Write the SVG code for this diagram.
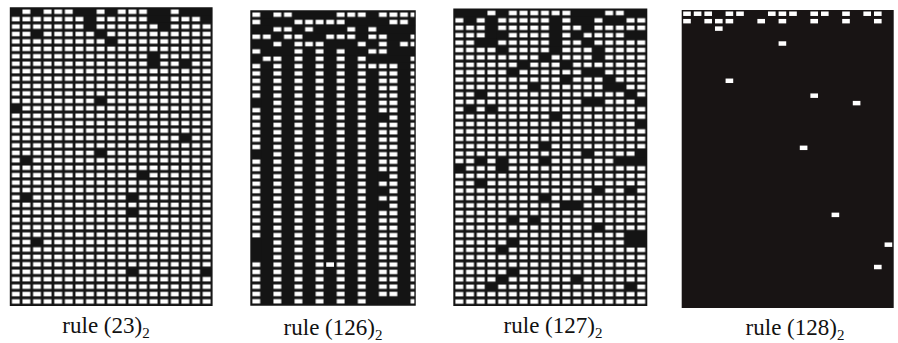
<svg xmlns="http://www.w3.org/2000/svg" width="898" height="343" viewBox="0 0 898 343">
<style>
.k{fill:#141414}
.w{fill:#ffffff}
.edge{fill:none;stroke:#141414;stroke-width:1.4px;vector-effect:non-scaling-stroke}
.lbl{font-family:"Liberation Serif","Times New Roman",serif;font-size:23px;fill:#111;text-anchor:middle}
.sub{font-size:15px}
</style>
<defs>
<pattern id="grid" patternUnits="userSpaceOnUse" x="0" y="0" width="1" height="1">
<rect width="1" height="1" fill="#141414"/>
<rect x="0.13" y="0.2" width="0.74" height="0.6" fill="#ffffff"/>
</pattern>
</defs>
<rect width="898" height="343" fill="#ffffff"/>

<g id="panel-23" transform="translate(10.5,8) scale(10.6,7.43)">
<rect width="19" height="40" fill="url(#grid)"/>
<rect class="edge" width="19" height="40"/>
<rect class="k" x="0" y="0" width="1" height="1"/>
<rect class="k" x="2" y="0" width="1" height="1"/>
<rect class="k" x="6" y="0" width="2" height="1"/>
<rect class="k" x="9" y="0" width="1" height="1"/>
<rect class="k" x="13" y="0" width="2" height="1"/>
<rect class="k" x="16" y="0" width="3" height="1"/>
<rect class="k" x="7" y="1" width="1" height="2"/>
<rect class="k" x="13" y="1" width="2" height="1"/>
<rect class="k" x="18" y="1" width="1" height="1"/>
<rect class="k" x="14" y="2" width="1" height="1"/>
<rect class="k" x="2" y="3" width="1" height="1"/>
<rect class="k" x="8" y="3" width="1" height="1"/>
<rect class="k" x="9" y="4" width="1" height="1"/>
<rect class="k" x="13" y="6" width="1" height="2"/>
<rect class="k" x="16" y="7" width="1" height="1"/>
<rect class="k" x="8" y="12" width="1" height="1"/>
<rect class="k" x="0" y="13" width="1" height="1"/>
<rect class="k" x="16" y="17" width="1" height="1"/>
<rect class="k" x="8" y="19" width="1" height="1"/>
<rect class="k" x="1" y="20" width="1" height="1"/>
<rect class="k" x="12" y="22" width="1" height="1"/>
<rect class="k" x="1" y="25" width="1" height="1"/>
<rect class="k" x="11" y="25" width="1" height="1"/>
<rect class="k" x="11" y="27" width="1" height="1"/>
<rect class="k" x="2" y="31" width="1" height="1"/>
<rect class="k" x="11" y="35" width="1" height="1"/>
<rect class="k" x="18" y="35" width="1" height="1"/>
</g>

<g id="panel-126" transform="translate(251,11) scale(10.55,7.35)">
<rect width="15.55" height="40" fill="url(#grid)"/>
<rect class="edge" width="15.55" height="40"/>
<rect class="k" x="1" y="8" width="1" height="32"/>
<rect class="k" x="3" y="8" width="1" height="32"/>
<rect class="k" x="5" y="8" width="1" height="32"/>
<rect class="k" x="7" y="8" width="1" height="32"/>
<rect class="k" x="9" y="8" width="1" height="32"/>
<rect class="k" x="11" y="8" width="1" height="32"/>
<rect class="k" x="14" y="8" width="1" height="32"/>
<rect class="k" x="1" y="0" width="1" height="1"/>
<rect class="k" x="4" y="0" width="4" height="1"/>
<rect class="k" x="11" y="0" width="1" height="1"/>
<rect class="k" x="1" y="1" width="3" height="1"/>
<rect class="k" x="9" y="1" width="4" height="1"/>
<rect class="k" x="15" y="1" width="0.55" height="1"/>
<rect class="k" x="0" y="2" width="2" height="1"/>
<rect class="k" x="4" y="2" width="1" height="1"/>
<rect class="k" x="6" y="2" width="3" height="1"/>
<rect class="k" x="10" y="2" width="1" height="1"/>
<rect class="k" x="12" y="2" width="3.55" height="1"/>
<rect class="k" x="2" y="3" width="1" height="1"/>
<rect class="k" x="5" y="3" width="2" height="1"/>
<rect class="k" x="10" y="3" width="1" height="1"/>
<rect class="k" x="13" y="3" width="2" height="1"/>
<rect class="k" x="0" y="4" width="2" height="1"/>
<rect class="k" x="3" y="4" width="1" height="1"/>
<rect class="k" x="7" y="4" width="3" height="1"/>
<rect class="k" x="11" y="4" width="1" height="1"/>
<rect class="k" x="13" y="4" width="1" height="1"/>
<rect class="k" x="1" y="5" width="3" height="1"/>
<rect class="k" x="5" y="5" width="1" height="1"/>
<rect class="k" x="7" y="5" width="1" height="1"/>
<rect class="k" x="9" y="5" width="2" height="1"/>
<rect class="k" x="13" y="5" width="2.55" height="1"/>
<rect class="k" x="0" y="6" width="1" height="1"/>
<rect class="k" x="3" y="6" width="1" height="2"/>
<rect class="k" x="5" y="6" width="1" height="2"/>
<rect class="k" x="7" y="6" width="1" height="2"/>
<rect class="k" x="9" y="6" width="1" height="2"/>
<rect class="k" x="11" y="6" width="4" height="1"/>
<rect class="k" x="1" y="7" width="1" height="1"/>
<rect class="k" x="14" y="7" width="1" height="1"/>
<rect class="k" x="0" y="12" width="1" height="1"/>
<rect class="k" x="0" y="19" width="1" height="1"/>
<rect class="k" x="0" y="31" width="1" height="3"/>
<rect class="k" x="12" y="14" width="1" height="1"/>
<rect class="k" x="12" y="22" width="1" height="1"/>
<rect class="k" x="12" y="24" width="1" height="1"/>
<rect class="k" x="12" y="26" width="1" height="1"/>
<rect class="k" x="12" y="39" width="2" height="1"/>
<rect class="w" x="7.13" y="34.2" width="0.74" height="0.6"/>
</g>

<g id="panel-127" transform="translate(454,9.3) scale(10.7,7.4)">
<rect width="18" height="40" fill="url(#grid)"/>
<rect class="edge" width="18" height="40"/>
<rect class="k" x="0" y="0" width="3" height="1"/>
<rect class="k" x="4" y="0" width="1" height="1"/>
<rect class="k" x="11" y="0" width="3" height="1"/>
<rect class="k" x="16" y="0" width="2" height="1"/>
<rect class="k" x="1" y="1" width="1" height="1"/>
<rect class="k" x="3" y="1" width="1" height="3"/>
<rect class="k" x="9" y="1" width="1" height="4"/>
<rect class="k" x="11" y="1" width="2" height="1"/>
<rect class="k" x="14" y="1" width="2" height="1"/>
<rect class="k" x="12" y="2" width="1" height="1"/>
<rect class="k" x="4" y="3" width="1" height="1"/>
<rect class="k" x="11" y="3" width="1" height="1"/>
<rect class="k" x="16" y="3" width="2" height="1"/>
<rect class="k" x="2" y="4" width="2" height="1"/>
<rect class="k" x="12" y="4" width="1" height="1"/>
<rect class="k" x="4" y="5" width="1" height="1"/>
<rect class="k" x="9" y="5" width="1" height="1"/>
<rect class="k" x="13" y="5" width="1" height="2"/>
<rect class="k" x="8" y="6" width="1" height="1"/>
<rect class="k" x="6" y="7" width="1" height="1"/>
<rect class="k" x="10" y="7" width="1" height="1"/>
<rect class="k" x="5" y="8" width="1" height="1"/>
<rect class="k" x="12" y="8" width="2" height="1"/>
<rect class="k" x="10" y="9" width="1" height="1"/>
<rect class="k" x="14" y="9" width="1" height="1"/>
<rect class="k" x="7" y="10" width="1" height="1"/>
<rect class="k" x="14" y="10" width="2" height="1"/>
<rect class="k" x="2" y="11" width="1" height="1"/>
<rect class="k" x="16" y="11" width="1" height="1"/>
<rect class="k" x="12" y="12" width="2" height="1"/>
<rect class="k" x="17" y="12" width="1" height="1"/>
<rect class="k" x="1" y="13" width="1" height="1"/>
<rect class="k" x="3" y="13" width="1" height="1"/>
<rect class="k" x="9" y="14" width="1" height="1"/>
<rect class="k" x="17" y="15" width="1" height="1"/>
<rect class="k" x="8" y="18" width="1" height="1"/>
<rect class="k" x="12" y="19" width="1" height="1"/>
<rect class="k" x="17" y="19" width="1" height="1"/>
<rect class="k" x="2" y="20" width="1" height="1"/>
<rect class="k" x="4" y="20" width="1" height="2"/>
<rect class="k" x="8" y="20" width="1" height="1"/>
<rect class="k" x="15" y="20" width="3" height="1"/>
<rect class="k" x="0" y="21" width="1" height="1"/>
<rect class="k" x="2" y="23" width="1" height="1"/>
<rect class="k" x="13" y="24" width="1" height="1"/>
<rect class="k" x="16" y="24" width="1" height="1"/>
<rect class="k" x="8" y="25" width="1" height="1"/>
<rect class="k" x="10" y="26" width="2" height="1"/>
<rect class="k" x="5" y="28" width="1" height="1"/>
<rect class="k" x="7" y="28" width="1" height="1"/>
<rect class="k" x="13" y="29" width="1" height="1"/>
<rect class="k" x="16" y="30" width="2" height="2"/>
<rect class="k" x="5" y="31" width="1" height="1"/>
<rect class="k" x="4" y="32" width="1" height="1"/>
<rect class="k" x="5" y="35" width="1" height="1"/>
<rect class="k" x="4" y="36" width="1" height="1"/>
<rect class="k" x="11" y="36" width="1" height="1"/>
<rect class="k" x="3" y="37" width="1" height="1"/>
<rect class="k" x="16" y="37" width="1" height="1"/>
</g>

<g id="panel-128" transform="translate(681.7,10) scale(10.6,7.45)">
<rect width="20" height="40" fill="#181414"/>
<g class="w">
<rect x="0.14" y="0.2" width="0.72" height="0.6"/>
<rect x="1.14" y="0.2" width="0.72" height="0.6"/>
<rect x="2.14" y="0.2" width="0.72" height="0.6"/>
<rect x="4.14" y="0.2" width="0.72" height="0.6"/>
<rect x="5.14" y="0.2" width="0.72" height="0.6"/>
<rect x="8.14" y="0.2" width="0.72" height="0.6"/>
<rect x="9.14" y="0.2" width="0.72" height="0.6"/>
<rect x="10.14" y="0.2" width="0.72" height="0.6"/>
<rect x="12.14" y="0.2" width="0.72" height="0.6"/>
<rect x="13.14" y="0.2" width="0.72" height="0.6"/>
<rect x="15.14" y="0.2" width="0.72" height="0.6"/>
<rect x="17.14" y="0.2" width="0.72" height="0.6"/>
<rect x="18.14" y="0.2" width="0.72" height="0.6"/>
<rect x="0.14" y="1.2" width="0.72" height="0.6"/>
<rect x="2.14" y="1.2" width="0.72" height="0.6"/>
<rect x="3.14" y="1.2" width="0.72" height="0.6"/>
<rect x="4.14" y="1.2" width="0.72" height="0.6"/>
<rect x="7.14" y="1.2" width="0.72" height="0.6"/>
<rect x="9.14" y="1.2" width="0.72" height="0.6"/>
<rect x="12.14" y="1.2" width="0.72" height="0.6"/>
<rect x="15.14" y="1.2" width="0.72" height="0.6"/>
<rect x="18.14" y="1.2" width="0.72" height="0.6"/>
<rect x="3.14" y="2.2" width="0.72" height="0.6"/>
<rect x="9.14" y="4.2" width="0.72" height="0.6"/>
<rect x="4.14" y="9.2" width="0.72" height="0.6"/>
<rect x="12.14" y="11.2" width="0.72" height="0.6"/>
<rect x="16.14" y="12.2" width="0.72" height="0.6"/>
<rect x="11.14" y="18.2" width="0.72" height="0.6"/>
<rect x="14.14" y="27.2" width="0.72" height="0.6"/>
<rect x="19.14" y="31.2" width="0.72" height="0.6"/>
<rect x="18.14" y="34.2" width="0.72" height="0.6"/>
</g>
</g>

<g id="labels">
<text class="lbl" x="106" y="333">rule (23)<tspan class="sub" dy="5">2</tspan></text>
<text class="lbl" x="333" y="335">rule (126)<tspan class="sub" dy="5">2</tspan></text>
<text class="lbl" x="553" y="333">rule (127)<tspan class="sub" dy="5">2</tspan></text>
<text class="lbl" x="795" y="335">rule (128)<tspan class="sub" dy="5">2</tspan></text>
</g>
</svg>
